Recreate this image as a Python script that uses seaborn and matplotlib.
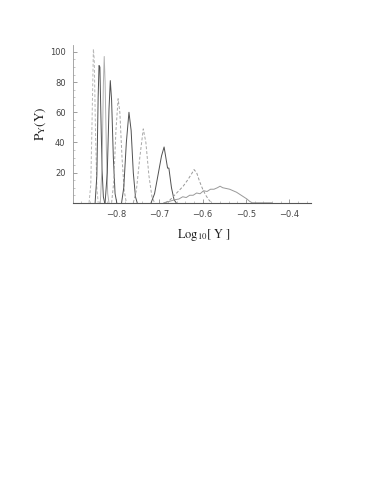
import seaborn as sns
import pandas as pd
import matplotlib
matplotlib.use("Agg")
from matplotlib import pyplot as plt
from matplotlib.ticker import MultipleLocator

# peaks, left to right (log10 Y, P_Y)
peak1_x = [-0.862, -0.858, -0.855, -0.852, -0.850, -0.847, -0.844, -0.841]
peak1_y = [0, 12, 55, 102, 95, 45, 10, 0]

peak2_x = [-0.848, -0.844, -0.841, -0.839, -0.837, -0.835, -0.832, -0.829, -0.826]
peak2_y = [0, 18, 70, 91, 90, 62, 22, 4, 0]

peak3_x = [-0.836, -0.832, -0.829, -0.827, -0.825, -0.822, -0.819, -0.816]
peak3_y = [0, 25, 78, 97, 80, 35, 6, 0]

peak4_x = [-0.825, -0.820, -0.816, -0.813, -0.810, -0.806, -0.802, -0.798]
peak4_y = [0, 20, 62, 81, 68, 30, 6, 0]

peak5_x = [-0.810, -0.805, -0.800, -0.795, -0.791, -0.786, -0.781, -0.776]
peak5_y = [0, 14, 48, 69, 60, 30, 8, 0]

peak6_x = [-0.787, -0.782, -0.776, -0.770, -0.765, -0.760, -0.755, -0.751]
peak6_y = [0, 10, 40, 60, 48, 20, 4, 0]

peak7_x = [-0.760, -0.753, -0.745, -0.737, -0.731, -0.724, -0.717, -0.711]
peak7_y = [0, 8, 30, 49, 40, 18, 4, 0]

peak8_x = [-0.719, -0.711, -0.702, -0.695, -0.689, -0.685, -0.681, -0.678, -0.672, -0.666, -0.661]
peak8_y = [0, 6, 20, 31, 37, 30, 23, 23, 10, 2, 0]

peak9_x = [-0.686, -0.675, -0.665, -0.655, -0.645, -0.635, -0.626, -0.620, -0.614, -0.607, -0.600, -0.593, -0.586, -0.580]
peak9_y = [0, 2, 5, 8, 11, 15, 19, 22, 20, 14, 9, 5, 2, 0]

peak10_x = [-0.690, -0.676, -0.665, -0.655, -0.646, -0.638, -0.630, -0.622, -0.614, -0.606, -0.598,
            -0.590, -0.582, -0.574, -0.566, -0.560, -0.554, -0.546, -0.538, -0.530, -0.522, -0.514,
            -0.506, -0.498, -0.492, -0.486, -0.470, -0.440]
peak10_y = [0, 1, 2, 2.5, 4, 3.5, 5, 5, 6.5, 6, 8,
            7.5, 9, 9, 10, 11, 10, 9.5, 9, 8, 7, 5.5,
            4, 2.5, 1, 0, 0, 0]

curves = [
    (peak1_x, peak1_y, "#b8b8b8", "dash"),
    (peak2_x, peak2_y, "#505050", "solid"),
    (peak3_x, peak3_y, "#b0b0b0", "solid"),
    (peak4_x, peak4_y, "#505050", "solid"),
    (peak5_x, peak5_y, "#a8a8a8", "dash"),
    (peak6_x, peak6_y, "#505050", "solid"),
    (peak7_x, peak7_y, "#a8a8a8", "dash"),
    (peak8_x, peak8_y, "#505050", "solid"),
    (peak9_x, peak9_y, "#999999", "dash"),
    (peak10_x, peak10_y, "#999999", "solid"),
]

sns.set_style("white")
plt.rcParams["mathtext.fontset"] = "stix"
plt.rcParams["font.family"] = ["DejaVu Sans"]

fig = plt.figure(figsize=(3.74, 4.84), dpi=100)
ax = fig.add_axes([0.194, 0.581, 0.638, 0.326])

for cx, cy, col, ls in curves:
    df = pd.DataFrame({"x": cx, "y": cy})
    sns.lineplot(data=df, x="x", y="y", ax=ax, color=col, lw=0.7,
                 estimator=None, sort=False)
    if ls == "dash":
        ax.lines[-1].set_dashes((3, 2))

ax.set_xlim(-0.9, -0.35)
ax.set_ylim(0, 104.6)

for s in ["top", "right"]:
    ax.spines[s].set_visible(False)
ax.spines["left"].set_color("#999999")
ax.spines["bottom"].set_color("#555555")
ax.spines["left"].set_linewidth(0.6)
ax.spines["bottom"].set_linewidth(0.8)

ax.xaxis.set_major_locator(MultipleLocator(0.1))
ax.xaxis.set_minor_locator(MultipleLocator(0.02))
ax.yaxis.set_major_locator(MultipleLocator(20))
ax.yaxis.set_minor_locator(MultipleLocator(5))
ax.tick_params(axis="both", which="both", bottom=True, left=True)
ax.tick_params(axis="both", which="major", direction="in", length=3, width=0.5,
               color="#777777", labelsize=6, labelcolor="#444444", pad=5)
ax.tick_params(axis="both", which="minor", direction="in", length=1.5, width=0.4,
               color="#999999")
ax.set_xticks([-0.8, -0.7, -0.6, -0.5, -0.4])
ax.set_xticklabels(["\u22120.8", "\u22120.7", "\u22120.6", "\u22120.5", "\u22120.4"])
ax.set_yticks([20, 40, 60, 80, 100])
ax.set_yticklabels(["20", "40", "60", "80", "100"])

ax.set_xlabel(r"$\mathrm{Log}_{10}\mathrm{[\ Y\ ]}$", fontsize=9, color="#222222")
ax.set_ylabel(r"$\mathrm{P}_{\mathrm{Y}}\mathrm{(Y)}$", fontsize=9.5, color="#222222")
ax.xaxis.set_label_coords(0.55, -0.155)
ax.yaxis.set_label_coords(-0.105, 0.5)

fig.savefig("out.png", dpi=100)
